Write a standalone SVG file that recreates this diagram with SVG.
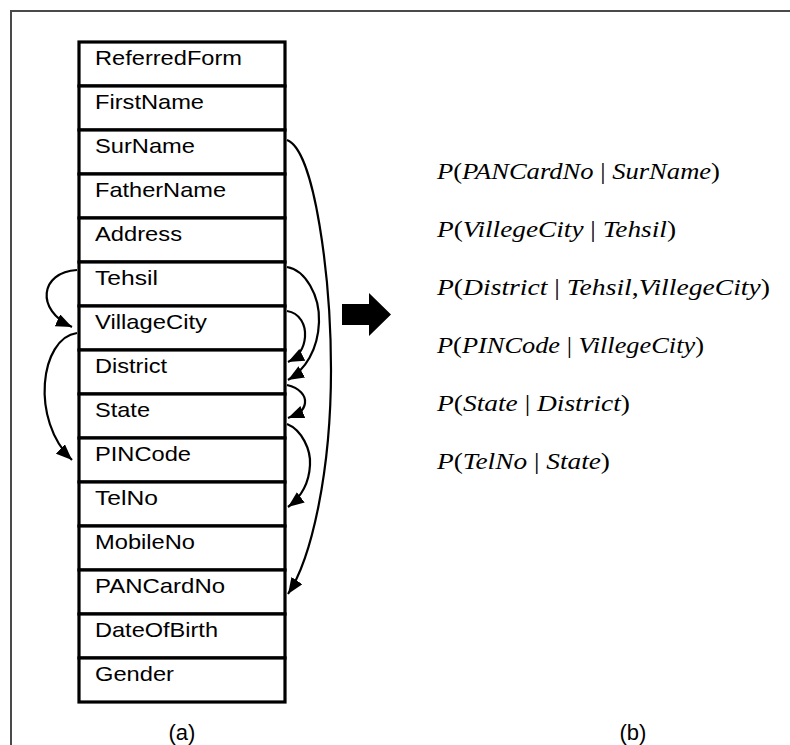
<svg xmlns="http://www.w3.org/2000/svg" width="790" height="745" viewBox="0 0 790 745">
  <style>
    .cell { fill: #ffffff; stroke: #000000; stroke-width: 3.2; }
    .lbl { font-family: "Liberation Sans", Arial, sans-serif; font-size: 21px; fill: #000000; }
    .eq { font-family: "Liberation Serif", "DejaVu Serif", serif; font-size: 23px; font-style: italic; fill: #000000; }
    .up { font-style: normal; }
    .conn { fill: none; stroke: #000000; stroke-width: 2.2; }
    .frame { stroke: #4a4a4a; stroke-width: 2; fill: none; }
    .cap { font-family: "Liberation Sans", Arial, sans-serif; font-size: 22px; fill: #000000; text-anchor: middle; }
  </style>
  <defs>
    <marker id="ah" viewBox="0 0 16 13" refX="16" refY="6.5" markerWidth="16" markerHeight="13" markerUnits="userSpaceOnUse" orient="auto">
      <path d="M0,0 L16,6.5 L0,13 z" fill="#000000"/>
    </marker>
  </defs>
  <rect x="0" y="0" width="790" height="745" fill="#ffffff"/>
  <g id="frame">
    <line class="frame" x1="11" y1="11" x2="11" y2="745"/>
    <line class="frame" x1="10" y1="11" x2="790" y2="11"/>
  </g>

  <g id="table">
    <g id="n-ReferredForm"><rect class="cell" x="79" y="42" width="206" height="44"/><text class="lbl" x="95" y="64.5" textLength="147" lengthAdjust="spacingAndGlyphs">ReferredForm</text></g>
    <g id="n-FirstName"><rect class="cell" x="79" y="86" width="206" height="44"/><text class="lbl" x="95" y="108.5" textLength="109" lengthAdjust="spacingAndGlyphs">FirstName</text></g>
    <g id="n-SurName"><rect class="cell" x="79" y="130" width="206" height="44"/><text class="lbl" x="95" y="152.5" textLength="100" lengthAdjust="spacingAndGlyphs">SurName</text></g>
    <g id="n-FatherName"><rect class="cell" x="79" y="174" width="206" height="44"/><text class="lbl" x="95" y="196.5" textLength="131" lengthAdjust="spacingAndGlyphs">FatherName</text></g>
    <g id="n-Address"><rect class="cell" x="79" y="218" width="206" height="44"/><text class="lbl" x="95" y="240.5" textLength="87" lengthAdjust="spacingAndGlyphs">Address</text></g>
    <g id="n-Tehsil"><rect class="cell" x="79" y="262" width="206" height="44"/><text class="lbl" x="95" y="284.5" textLength="63" lengthAdjust="spacingAndGlyphs">Tehsil</text></g>
    <g id="n-VillageCity"><rect class="cell" x="79" y="306" width="206" height="44"/><text class="lbl" x="95" y="328.5" textLength="112" lengthAdjust="spacingAndGlyphs">VillageCity</text></g>
    <g id="n-District"><rect class="cell" x="79" y="350" width="206" height="44"/><text class="lbl" x="95" y="372.5" textLength="72" lengthAdjust="spacingAndGlyphs">District</text></g>
    <g id="n-State"><rect class="cell" x="79" y="394" width="206" height="44"/><text class="lbl" x="95" y="416.5" textLength="55" lengthAdjust="spacingAndGlyphs">State</text></g>
    <g id="n-PINCode"><rect class="cell" x="79" y="438" width="206" height="44"/><text class="lbl" x="95" y="460.5" textLength="96" lengthAdjust="spacingAndGlyphs">PINCode</text></g>
    <g id="n-TelNo"><rect class="cell" x="79" y="482" width="206" height="44"/><text class="lbl" x="95" y="504.5" textLength="63" lengthAdjust="spacingAndGlyphs">TelNo</text></g>
    <g id="n-MobileNo"><rect class="cell" x="79" y="526" width="206" height="44"/><text class="lbl" x="95" y="548.5" textLength="100" lengthAdjust="spacingAndGlyphs">MobileNo</text></g>
    <g id="n-PANCardNo"><rect class="cell" x="79" y="570" width="206" height="44"/><text class="lbl" x="95" y="592.5" textLength="130" lengthAdjust="spacingAndGlyphs">PANCardNo</text></g>
    <g id="n-DateOfBirth"><rect class="cell" x="79" y="614" width="206" height="44"/><text class="lbl" x="95" y="636.5" textLength="123" lengthAdjust="spacingAndGlyphs">DateOfBirth</text></g>
    <g id="n-Gender"><rect class="cell" x="79" y="658" width="206" height="44"/><text class="lbl" x="95" y="680.5" textLength="79" lengthAdjust="spacingAndGlyphs">Gender</text></g>
  </g>

  <g id="connectors">
    <path class="conn" marker-end="url(#ah)" d="M77,270 C40,272 35,310 72,327"/>
    <path class="conn" marker-end="url(#ah)" d="M77,333 C40,338 30,420 72,460"/>
    <path class="conn" marker-end="url(#ah)" d="M287,140 C315,150 331,280 331,370 C331,470 312,558 288,594"/>
    <path class="conn" marker-end="url(#ah)" d="M287,267 C305,270 320,295 319,322 C318,350 305,370 288,380"/>
    <path class="conn" marker-end="url(#ah)" d="M287,311 C300,313 306,325 305,337 C304,350 298,357 288,362"/>
    <path class="conn" marker-end="url(#ah)" d="M287,385 C300,388 306,396 305,403 C304,411 298,414 288,418"/>
    <path class="conn" marker-end="url(#ah)" d="M287,424 C302,430 311,450 310,465 C309,485 300,498 288,507"/>
  </g>

  <g id="bigarrow">
    <polygon points="342,304 369,304 369,293 391,314.5 369,336 369,325 342,325" fill="#000000"/>
  </g>

  <g id="formulas">
    <text class="eq" x="437" y="179" textLength="283" lengthAdjust="spacingAndGlyphs">P<tspan class="up">(</tspan>PANCardNo <tspan class="up">|</tspan> SurName<tspan class="up">)</tspan></text>
    <text class="eq" x="437" y="237" textLength="239" lengthAdjust="spacingAndGlyphs">P<tspan class="up">(</tspan>VillegeCity <tspan class="up">|</tspan> Tehsil<tspan class="up">)</tspan></text>
    <text class="eq" x="437" y="295" textLength="333" lengthAdjust="spacingAndGlyphs">P<tspan class="up">(</tspan>District <tspan class="up">|</tspan> Tehsil<tspan class="up">,</tspan>VillegeCity<tspan class="up">)</tspan></text>
    <text class="eq" x="437" y="353" textLength="267" lengthAdjust="spacingAndGlyphs">P<tspan class="up">(</tspan>PINCode <tspan class="up">|</tspan> VillegeCity<tspan class="up">)</tspan></text>
    <text class="eq" x="437" y="411" textLength="193" lengthAdjust="spacingAndGlyphs">P<tspan class="up">(</tspan>State <tspan class="up">|</tspan> District<tspan class="up">)</tspan></text>
    <text class="eq" x="437" y="469" textLength="173" lengthAdjust="spacingAndGlyphs">P<tspan class="up">(</tspan>TelNo <tspan class="up">|</tspan> State<tspan class="up">)</tspan></text>
  </g>

  <g id="captions">
    <text class="cap" x="182" y="740">(a)</text>
    <text class="cap" x="633" y="740">(b)</text>
  </g>
</svg>
